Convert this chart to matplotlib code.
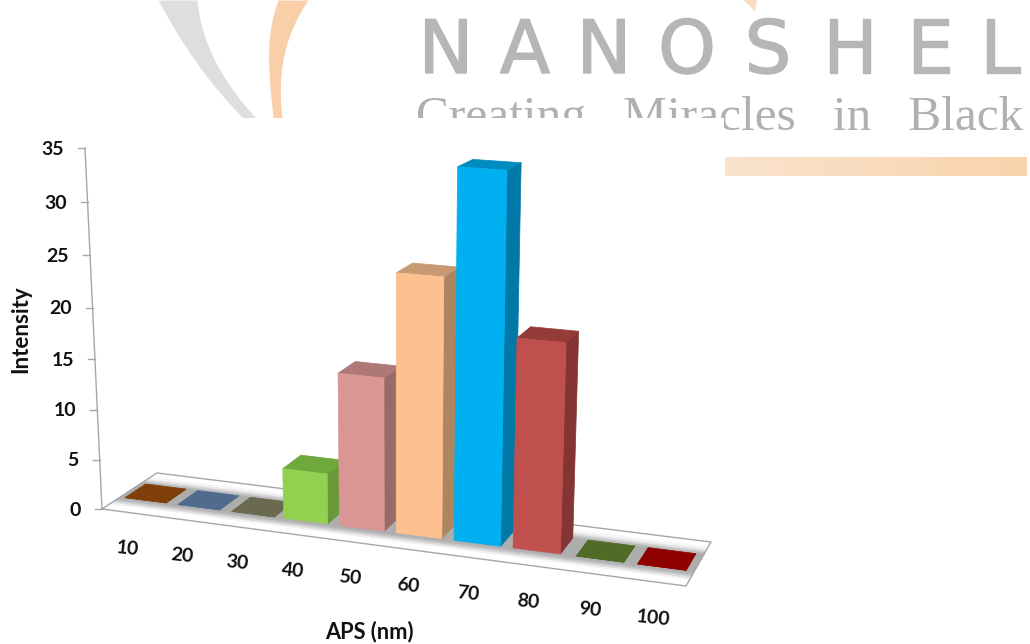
import numpy as np
import matplotlib
matplotlib.use("Agg")
import matplotlib.pyplot as plt
import matplotlib.patheffects as pe

# data
categories = ["10", "20", "30", "40", "50", "60", "70", "80", "90", "100"]
intensity = [0, 0, 0, 5, 15, 25, 35, 20, 0, 0]
y_ticks = [0, 5, 10, 15, 20, 25, 30, 35]

# colours
front_colors = ["#7F3F0A", "#4F6B8E", "#6A6A50", "#92D050", "#D99694",
                "#FCC18F", "#00B0F0", "#C0504D", "#4F6B26", "#8E0000"]
top_colors = ["#7F3F0A", "#4F6B8E", "#6A6A50", "#6FA83C", "#AE7876",
              "#C89A73", "#008CC0", "#953B38", "#4F6B26", "#8E0000"]
side_colors = ["#7F3F0A", "#4F6B8E", "#6A6A50", "#67983A", "#9A6A69",
               "#AD8660", "#0079A8", "#843533", "#4F6B26", "#8E0000"]
line_color = "#A6A6A6"
label_font = ["Lato", "DejaVu Sans"]

# perspective camera, (category, depth, value) -> image pixel
CAMERA = np.array([
    [52.19, 64.1, -0.618, 102.0],
    [2.40, -8.5, -10.545, 509.0],
    [-0.00905, 0.0582, -0.00156, 1.0],
])


def project(x, depth, value):
    """Project a point of the 3d chart box onto the image"""
    p = CAMERA @ np.array([x, depth, value, 1.0])
    return p[0] / p[2], p[1] / p[2]


def quad(ax, points, color, zorder):
    """Fill a four sided face given in chart coordinates"""
    xy = [project(*p) for p in points]
    ax.fill([q[0] for q in xy], [q[1] for q in xy], color=color, lw=0.5,
            zorder=zorder)


def swoosh(ax, left, right, color):
    """Curved logo stroke between two edges given as (x, y) samples"""
    grid = np.linspace(0, 118, 60)
    edges = []
    for edge in (left, right):
        xs, ys = zip(*edge)
        edges.append(np.polyval(np.polyfit(ys, xs, 3), grid))
    ax.fill_betweenx(grid, edges[0], edges[1], color=color, lw=0, zorder=1)


def draw_logo(ax):
    """Faded company logo behind the chart"""
    swoosh(ax, [(158, 0), (170, 20), (187, 50), (210, 80), (243, 118)],
           [(197, 0), (202, 27), (213, 57), (233, 90), (256, 118)], "#DEDEDE")
    swoosh(ax, [(278, 0), (270, 33), (269, 73), (273, 118)],
           [(308, 0), (293, 27), (283, 60), (282, 118)], "#F9CFAA")
    ax.fill([743, 757, 755, 750], [0, 0, 12, 6], color="#F9DCC4", lw=0, zorder=1)

    letter_center = [446, 525, 604, 687, 768, 850, 930, 1000]
    for letter, center in zip("NANOSHEL", letter_center):
        ax.text(center, 73, letter, family="DejaVu Sans", fontsize=53,
                color="#B6B6B6", ha="center", va="baseline", zorder=1,
                path_effects=[pe.withStroke(linewidth=1, foreground="#B6B6B6")])
    ax.text(416, 130, "Creating   Miracles   in   Black", family="Liberation Serif",
            fontsize=35.5, color="#B0B0B0", ha="left", va="baseline", zorder=1)

    # the chart was pasted on top of the logo and hides part of it
    ax.fill([0, 724, 724, 0], [118, 118, 644, 644], color="white", lw=0, zorder=2)

    # peach strip under the slogan, a little stronger to the right
    fade = np.linspace(0, 1, 256)
    strip = np.dstack([np.full(256, 0.98), 0.89 - 0.06 * fade, 0.80 - 0.12 * fade])
    ax.imshow(strip.reshape(1, 256, 3), extent=(725, 1027, 176, 157),
              aspect="auto", zorder=2)


def draw_floor(ax):
    """Chart floor, white with a soft grey band under the bars"""
    quad(ax, [(0, 0, 0), (10, 0, 0), (10, 1, 0), (0, 1, 0)], "white", 3)
    corners = [project(0, 0, 0), project(10, 0, 0), project(10, 1, 0),
               project(0, 1, 0), project(0, 0, 0)]
    ax.plot([c[0] for c in corners], [c[1] for c in corners], color=line_color,
            lw=1, zorder=3.5)

    depths = [0.14, 0.18, 0.22, 0.26, 0.30, 0.72, 0.76, 0.80, 0.84, 0.88]
    greys = ["#F2F2F2", "#DCDCDC", "#C4C4C4", "#B2B2B2", "#ADADAD",
             "#BBBBBB", "#D2D2D2", "#E8E8E8", "#F6F6F6"]
    for d0, d1, col in zip(depths[:-1], depths[1:], greys):
        quad(ax, [(0, d0, 0), (10, d0, 0), (10, d1, 0), (0, d1, 0)], col, 3.2)


def draw_bars(ax):
    """One box per category, left to right so the nearer ones overlap"""
    d0, d1 = 0.32, 0.70
    for i, val in enumerate(intensity):
        # the flat markers sit a touch to the right of the raised boxes
        x0, x1 = (i + 0.04, i + 0.83) if val > 0 else (i + 0.09, i + 0.87)
        z = 4 + i * 0.1
        quad(ax, [(x1, d0, 0), (x1, d1, 0), (x1, d1, val), (x1, d0, val)],
             side_colors[i], z)
        quad(ax, [(x0, d0, val), (x1, d0, val), (x1, d1, val), (x0, d1, val)],
             top_colors[i], z)
        quad(ax, [(x0, d0, 0), (x1, d0, 0), (x1, d0, val), (x0, d0, val)],
             front_colors[i], z)


def draw_axes(ax):
    """Value axis, tick labels and axis titles"""
    bottom = project(0, 0, 0)
    top = project(0, 0, max(y_ticks))
    ax.plot([bottom[0], top[0]], [bottom[1], top[1]], color=line_color, lw=1,
            zorder=3.5)
    for tick in y_ticks:
        px, py = project(0, 0, tick)
        ax.plot([px - 7, px], [py, py], color=line_color, lw=1, zorder=3.5)
        ax.text(px - 21, py + 1, str(tick), family=label_font, fontsize=14,
                fontweight="bold", color="#111111", ha="right", va="center",
                zorder=6)

    for i, cat in enumerate(categories):
        px, py = project(i + 0.5, 0, 0)
        ax.text(px - 1, py + 36, cat, family=label_font, fontsize=14,
                fontweight="bold", color="#111111", ha="center", va="center",
                rotation=-6, rotation_mode="anchor", zorder=6)

    ax.text(369, 632, "APS (nm)", family=label_font, fontsize=15.7,
            fontweight="bold", color="#111111", ha="center", va="center", zorder=6)
    ax.text(21, 329, "Intensity", family=label_font, fontsize=16,
            fontweight="bold", color="#111111", ha="center", va="center",
            rotation=90, zorder=6)


def main():
    """Plotting the particle size distribution"""
    fig = plt.figure(figsize=(10.3, 6.44), dpi=100)
    ax = fig.add_axes([0, 0, 1, 1])

    draw_logo(ax)
    draw_floor(ax)
    draw_bars(ax)
    draw_axes(ax)

    ax.set_xlim(0, 1030)
    ax.set_ylim(644, 0)
    ax.axis("off")
    fig.savefig("out.png", dpi=100)


if __name__ == "__main__":
    main()
